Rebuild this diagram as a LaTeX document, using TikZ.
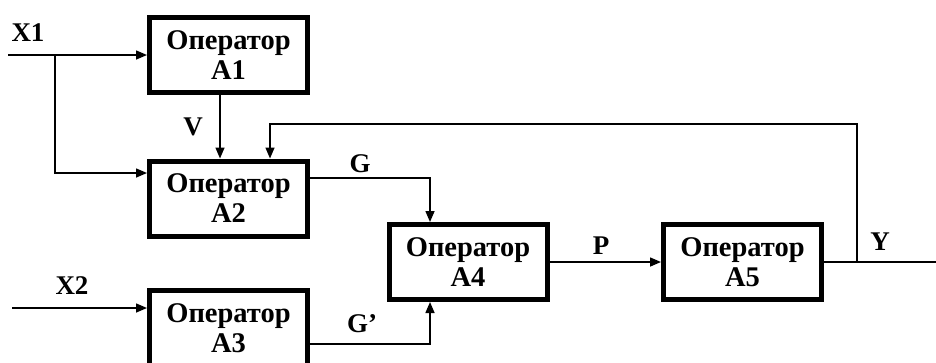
\documentclass[tikz,border=0pt]{standalone}
\usepackage{fontspec}
\setmainfont{Liberation Serif}
\usetikzlibrary{arrows.meta}
\begin{document}
\begin{tikzpicture}[x=1pt,y=-1pt,
  opbox/.style={draw, line width=5pt, minimum width=158pt, minimum height=75pt, inner sep=0pt, align=center, font=\fontsize{28.5}{30}\selectfont\bfseries},
  arr/.style={line width=1.5pt, -{Triangle[length=11pt,width=9pt]}},
  wire/.style={line width=1.5pt},
  lbl/.style={font=\fontsize{27}{28}\selectfont\bfseries, inner sep=0pt}]
\useasboundingbox (0,0) rectangle (936,362);
\clip (0,0) rectangle (936,362);
\node[opbox] (A1) at (228.5,55) {Оператор\\A1};
\node[opbox] (A2) at (228.5,198.5) {Оператор\\A2};
\node[opbox] (A3) at (228.5,328) {Оператор\\A3};
\node[opbox] (A4) at (468,262) {Оператор\\A4};
\node[opbox] (A5) at (742.5,262) {Оператор\\A5};
\coordinate (x1s) at (8,55);
\coordinate (br1) at (55,55);
\coordinate (x2s) at (12,308);
\coordinate (ysplit) at (857,262);
\coordinate (yout) at (936,262);
\coordinate (fbtop) at (857,124);
\draw[arr] (x1s) -- (A1.west);
\draw[arr] (br1) |- (A2.west |- 0,173);
\draw[arr] (A1.south -| 220,0) -- (A2.north -| 220,0);
\draw[wire] (A5.east) -- (yout);
\draw[arr] (ysplit) -- (fbtop) -| (A2.north -| 270,0);
\draw[arr] (A2.east |- 0,178) -| (A4.north -| 430,0);
\draw[arr] (A3.east |- 0,344) -| (A4.south -| 430,0);
\draw[arr] (A4.east) -- (A5.west);
\draw[arr] (x2s) -- (A3.west |- 0,308);
\node[lbl] (lx1) at (28,33) {X1};
\node[lbl] (lv) at (193,127) {V};
\node[lbl] (lg) at (360,164) {G};
\node[lbl] (lgp) at (362,324) {G’};
\node[lbl] (lp) at (601,246) {P};
\node[lbl] (ly) at (880,242) {Y};
\node[lbl] (lx2) at (72,286) {X2};
\end{tikzpicture}
\end{document}
